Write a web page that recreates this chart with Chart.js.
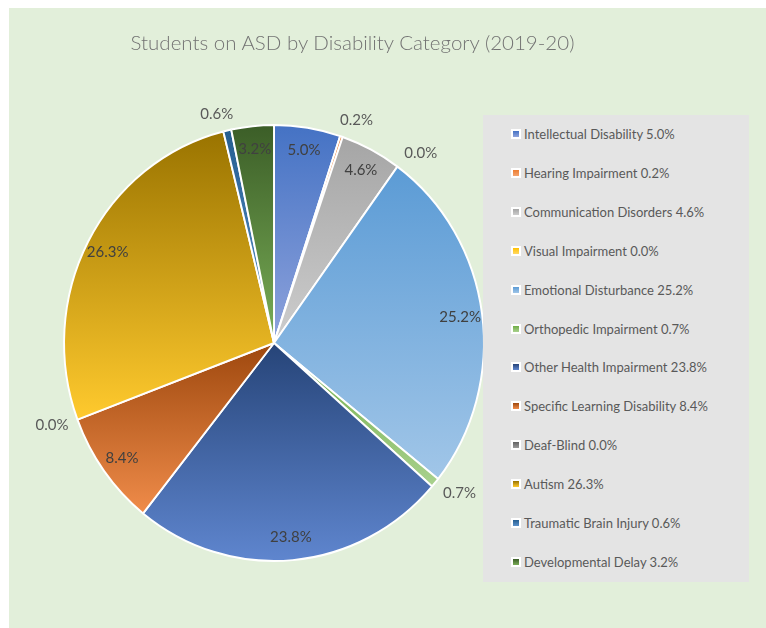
<!DOCTYPE html>
<html>
<head>
<meta charset="utf-8">
<title>Students on ASD by Disability Category (2019-20)</title>
<script src="https://cdn.jsdelivr.net/npm/chart.js@4.4.1/dist/chart.umd.min.js"></script>
<style>
    html, body { margin: 0; padding: 0; background: #ffffff; }
    #wrap { position: relative; width: 766px; height: 628px; overflow: hidden; }
    #panel { position: absolute; left: 9px; top: 8px; right: 0; bottom: 0; background: #e2efda; }
    #pieChart { position: absolute; left: 0; top: 0; }
    #title {
        position: absolute; left: 0; top: 29px; width: 705px;
        text-align: center; font: 300 20.5px Lato, sans-serif; line-height: 26px; color: #737373;
    }
    #legend { position: absolute; left: 483px; top: 115px; width: 266px; height: 467px; background: #e4e4e4; }
    .item {
        position: absolute; left: 28px; height: 16px; display: flex; align-items: center;
        font: 13px Lato, sans-serif; color: #595959; white-space: nowrap;
    }
    .key { width: 6px; height: 6px; border: 2px solid #ffffff; margin-right: 3px; }
</style>
</head>
<body>
<div id="wrap">
    <div id="panel"></div>
    <canvas id="pieChart" width="766" height="628"></canvas>
    <div id="title"></div>
    <div id="legend"></div>
</div>
<script>
const chartTitle = 'Students on ASD by Disability Category (2019-20)';

const categories = [
    'Intellectual Disability',
    'Hearing Impairment',
    'Communication Disorders',
    'Visual Impairment',
    'Emotional Disturbance',
    'Orthopedic Impairment',
    'Other Health Impairment',
    'Specific Learning Disability',
    'Deaf-Blind',
    'Autism',
    'Traumatic Brain Injury',
    'Developmental Delay'
];

// percent of students, as printed on the chart
const shares = [5.0, 0.2, 4.6, 0.0, 25.2, 0.7, 23.8, 8.4, 0.0, 26.3, 0.6, 3.2];

// each slice is shaded from its top colour down to its bottom colour
const topColors = ['#4472c4', '#ed7d31', '#a5a5a5', '#ffc000', '#5b9bd5', '#70ad47',
                   '#264478', '#9e480e', '#636363', '#997300', '#255e91', '#3b5d27'];
const bottomColors = ['#8fa3dc', '#f4a46f', '#cdcdcd', '#ffd966', '#a1c6e8', '#a9d18e',
                      '#5f86cf', '#f08c4a', '#9a9a9a', '#ffca2e', '#5b91c9', '#7aae57'];

const squeeze = 0.963;   // the original pie is a little narrower than tall

document.addEventListener('DOMContentLoaded', () => {
    document.getElementById('title').textContent = chartTitle;

    // legend
    const legendElem = document.getElementById('legend');
    categories.forEach((name, i) => {
        const item = document.createElement('div');
        item.className = 'item';
        item.style.top = (11 + 38.9 * i) + 'px';
        const key = document.createElement('span');
        key.className = 'key';
        key.style.background = `linear-gradient(${topColors[i]}, ${bottomColors[i]})`;
        item.appendChild(key);
        item.appendChild(document.createTextNode(`${name} ${shares[i].toFixed(1)}%`));
        legendElem.appendChild(item);
    });

    function sliceGradient(c) {
        const chart = c.chart;
        const area = chart.chartArea;
        const i = c.dataIndex;
        if (!area || i === undefined) return topColors[0];
        const cx = (area.left + area.right) / 2;
        const cy = (area.top + area.bottom) / 2;
        const r = Math.min(area.width, area.height) / 2;
        const total = shares.reduce((a, b) => a + b, 0);
        let before = 0;
        for (let k = 0; k < i; k++) before += shares[k];
        const a0 = before / total * 2 * Math.PI;
        const a1 = (before + shares[i]) / total * 2 * Math.PI;
        const ys = [cy, cy - r * Math.cos(a0), cy - r * Math.cos(a1)];
        if (a0 <= 1e-9 || a1 >= 2 * Math.PI - 1e-9) ys.push(cy - r);
        if (a0 <= Math.PI && a1 >= Math.PI) ys.push(cy + r);
        const y0 = Math.min(...ys);
        const y1 = Math.max(...ys);
        const g = chart.ctx.createLinearGradient(0, y0, 0, Math.max(y1, y0 + 1));
        g.addColorStop(0, topColors[i]);
        g.addColorStop(1, bottomColors[i]);
        return g;
    }

    const pieLabels = {
        id: 'pieLabels',
        beforeDatasetsDraw(chart) {
            const { ctx, chartArea: a } = chart;
            const cx = (a.left + a.right) / 2;
            ctx.save();
            ctx.translate(cx, 0);
            ctx.scale(squeeze, 1);
            ctx.translate(-cx, 0);
        },
        afterDatasetsDraw(chart) {
            const ctx = chart.ctx;
            ctx.restore();
            const meta = chart.getDatasetMeta(0);
            ctx.save();
            ctx.font = '15px Lato, sans-serif';
            ctx.textAlign = 'center';
            ctx.textBaseline = 'middle';
            meta.data.forEach((arc, i) => {
                const { x, y, startAngle, endAngle, outerRadius } =
                    arc.getProps(['x', 'y', 'startAngle', 'endAngle', 'outerRadius'], true);
                const mid = (startAngle + endAngle) / 2;
                const text = `${shares[i].toFixed(1)}%`;
                const c = Math.cos(mid), s = Math.sin(mid);
                let lx, ly;
                if (shares[i] >= 1) {
                    lx = x + c * outerRadius * 0.895 * squeeze;
                    ly = y + s * outerRadius * 0.895;
                    ctx.fillStyle = '#404040';
                } else {
                    // small slices: label sits just outside the rim
                    const halfW = ctx.measureText(text).width / 2;
                    const ex = x + c * outerRadius * squeeze;
                    const ey = y + s * outerRadius;
                    const side = Math.max(-1.2, Math.min(1.2, c * 2.5));
                    lx = ex + c * 6 + halfW * side;
                    ly = ey + s * 17;
                    ctx.fillStyle = '#595959';
                }
                ctx.fillText(text, lx, ly);
            });
            ctx.restore();
        }
    };

    const ctx = document.getElementById('pieChart').getContext('2d');
    new Chart(ctx, {
        type: 'pie',
        data: {
            labels: categories,
            datasets: [{
                data: shares,
                backgroundColor: sliceGradient,
                borderColor: '#ffffff',
                borderWidth: 2
            }]
        },
        options: {
            responsive: false,
            animation: false,
            events: [],
            layout: { padding: { left: 55, right: 273, top: 124, bottom: 66 } },
            plugins: {
                legend: { display: false },
                title: { display: false },
                tooltip: { enabled: false }
            }
        },
        plugins: [pieLabels]
    });
});
</script>
</body>
</html>
